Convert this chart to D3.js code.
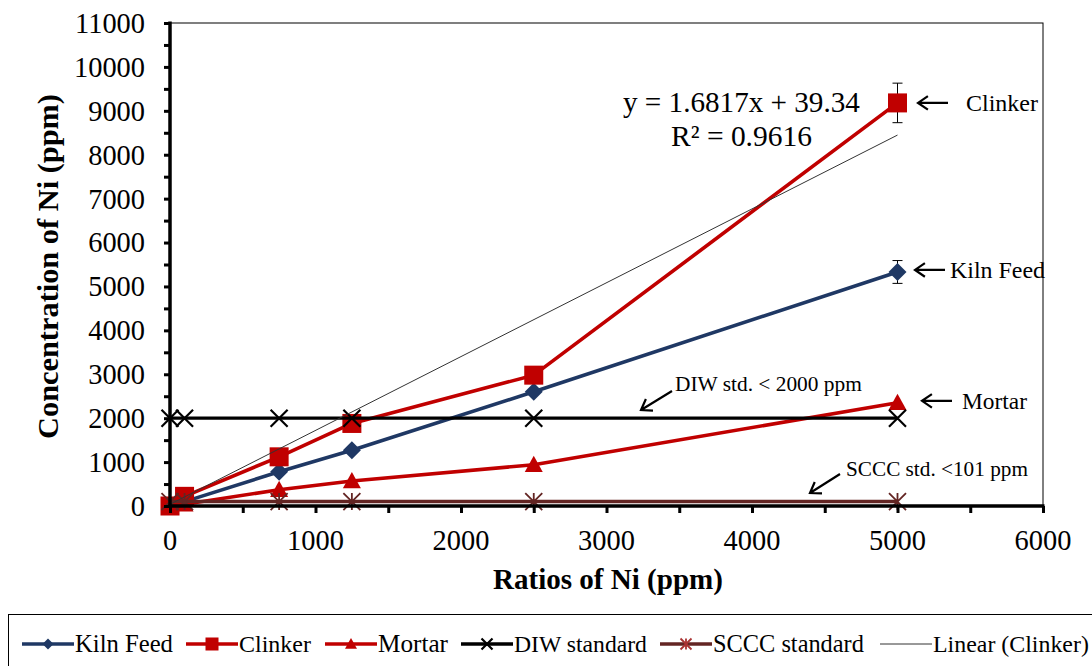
<!DOCTYPE html>
<html>
<head>
<meta charset="utf-8">
<script src="https://cdn.jsdelivr.net/npm/d3@7"></script>
<style>
  html, body { margin: 0; padding: 0; background: #fff; }
  svg { display: block; }
  svg text { font-family: 'Liberation Serif', 'DejaVu Serif', 'Times New Roman', serif; }
</style>
</head>
<body>
<svg id="chart" width="1092" height="666"></svg>
<script>
/* ── Data ── */
const ratios     = [0, 100, 750, 1250, 2500, 5000];
const kilnFeed   = [0, 100, 780, 1270, 2600, 5330];
const clinker    = [0, 220, 1120, 1880, 2980, 9180];
const mortar     = [0, 40, 370, 570, 940, 2350];
const diwStd     = [2000, 2000, 2000, 2000, 2000, 2000];
const scccStd    = [101, 101, 101, 101, 101, 101];
const kilnErr    = [0, 0, 0, 0, 0, 260];
const clinkerErr = [0, 0, 0, 0, 0, 450];
const trendSlope     = 1.6817;
const trendIntercept = 39.34;
const trendX     = [0, 5000];

const xTicks = [0, 1000, 2000, 3000, 4000, 5000, 6000];
const yTicks = [0, 1000, 2000, 3000, 4000, 5000, 6000, 7000, 8000, 9000, 10000, 11000];

const SERIES = [
  { name: 'Kiln Feed',     values: kilnFeed, color: '#1F3864', marker: 'diamond',  err: kilnErr },
  { name: 'Clinker',       values: clinker,  color: '#C00000', marker: 'square',   err: clinkerErr },
  { name: 'Mortar',        values: mortar,   color: '#C00000', marker: 'triangle' },
  { name: 'DIW standard',  values: diwStd,   color: '#000000', marker: 'x' },
  { name: 'SCCC standard', values: scccStd,  color: '#632523', marker: 'star' },
];

const svg = d3.select('#chart');
const x = d3.scaleLinear().domain([0, 6000]).range([170, 1043]);
const y = d3.scaleLinear().domain([0, 11000]).range([506, 23]);

// scale a text's font size so it spans the width seen in the reference
function fit(sel, w) {
  const len = sel.node().getComputedTextLength();
  if (len > 0) sel.attr('font-size', +sel.attr('font-size') * w / len);
  return sel;
}

/* ── Plot frame (thin top/right) ── */
svg.append('rect')
  .attr('x', x(0)).attr('y', y(11000))
  .attr('width', x(6000) - x(0)).attr('height', y(0) - y(11000))
  .attr('fill', 'none').attr('stroke', '#000').attr('stroke-width', 1);

/* ── Markers ── */
function drawMarker(g, type, cx, cy, size, color) {
  const s = size / 2;
  if (type === 'diamond') {
    g.append('path')
      .attr('d', `M${cx},${cy - s}L${cx + s},${cy}L${cx},${cy + s}L${cx - s},${cy}Z`)
      .attr('fill', color);
  } else if (type === 'square') {
    g.append('rect')
      .attr('x', cx - s).attr('y', cy - s).attr('width', size).attr('height', size)
      .attr('fill', color);
  } else if (type === 'triangle') {
    g.append('path')
      .attr('d', `M${cx},${cy - s}L${cx + s},${cy + s * 0.8}L${cx - s},${cy + s * 0.8}Z`)
      .attr('fill', color);
  } else if (type === 'x') {
    g.append('path')
      .attr('d', `M${cx - s},${cy - s}L${cx + s},${cy + s}M${cx - s},${cy + s}L${cx + s},${cy - s}`)
      .attr('stroke', color).attr('stroke-width', 2.2).attr('fill', 'none');
  } else if (type === 'star') {
    g.append('path')
      .attr('d', `M${cx - s},${cy - s}L${cx + s},${cy + s}M${cx - s},${cy + s}L${cx + s},${cy - s}M${cx},${cy - s}L${cx},${cy + s}`)
      .attr('stroke', color).attr('stroke-width', 1.8).attr('fill', 'none');
  }
}

const MARKER_SIZE = { diamond: 18, square: 19, triangle: 18, x: 17, star: 17 };

const line = d3.line().x(d => x(d[0])).y(d => y(d[1]));

SERIES.forEach(s => {
  const g = svg.append('g');
  const pts = ratios.map((r, i) => [r, s.values[i]]);
  g.append('path')
    .datum(pts)
    .attr('d', line)
    .attr('fill', 'none')
    .attr('stroke', s.color)
    .attr('stroke-width', s.marker === 'x' ? 3.2 : 3.6)
    .attr('stroke-linejoin', 'round');

  if (s.err) {
    pts.forEach((p, i) => {
      const e = s.err[i];
      if (!e) return;
      const cx = x(p[0]);
      g.append('path')
        .attr('d', `M${cx},${y(p[1] - e)}V${y(p[1] + e)}M${cx - 5},${y(p[1] - e)}H${cx + 5}M${cx - 5},${y(p[1] + e)}H${cx + 5}`)
        .attr('stroke', '#000').attr('stroke-width', 1).attr('fill', 'none');
    });
  }

  pts.forEach(p => drawMarker(g, s.marker, x(p[0]), y(p[1]), MARKER_SIZE[s.marker], s.color));
});

/* ── Linear trend (Clinker) ── */
svg.append('path')
  .datum(trendX.map(v => [v, trendSlope * v + trendIntercept]))
  .attr('d', line)
  .attr('fill', 'none')
  .attr('stroke', '#333')
  .attr('stroke-width', 1);

/* ── Axes ── */
const probe = svg.append('text').attr('font-size', 20).text('11000');
fit(probe, 70);
const TICK_FS = +probe.attr('font-size');
probe.remove();

const yAxisG = svg.append('g').attr('transform', `translate(${x(0)},0)`);
yAxisG.call(d3.axisLeft(y).tickValues(d3.range(0, 11001, 500)).tickSize(6).tickFormat(''))
  .call(ax => ax.select('.domain').remove())
  .call(ax => ax.selectAll('.tick line').attr('stroke', '#000').attr('stroke-width', 3));
yAxisG.append('line')
  .attr('x1', 0).attr('x2', 0).attr('y1', y(11000) - 1.5).attr('y2', y(0) + 1.5)
  .attr('stroke', '#000').attr('stroke-width', 3.5);
yAxisG.selectAll('.ylab')
  .data(yTicks)
  .join('text')
  .attr('x', -25)
  .attr('y', d => y(d))
  .attr('dy', '0.35em')
  .attr('text-anchor', 'end')
  .attr('font-size', TICK_FS)
  .attr('fill', '#000')
  .text(d => d);

const xAxisG = svg.append('g').attr('transform', `translate(0,${y(0)})`);
xAxisG.call(d3.axisBottom(x).tickValues(d3.range(0, 6001, 500)).tickSize(7).tickFormat(''))
  .call(ax => ax.select('.domain').remove())
  .call(ax => ax.selectAll('.tick line').attr('stroke', '#000').attr('stroke-width', 3));
xAxisG.append('line')
  .attr('x1', x(0) - 1.5).attr('x2', x(6000) + 1.5).attr('y1', 0).attr('y2', 0)
  .attr('stroke', '#000').attr('stroke-width', 3.5);
xAxisG.selectAll('.xlab')
  .data(xTicks)
  .join('text')
  .attr('x', d => x(d))
  .attr('y', 44)
  .attr('text-anchor', 'middle')
  .attr('font-size', TICK_FS)
  .attr('fill', '#000')
  .text(d => d);

/* ── Axis titles ── */
fit(svg.append('text')
  .attr('transform', `translate(58,${(y(0) + y(11000)) / 2 + 2}) rotate(-90)`)
  .attr('text-anchor', 'middle')
  .attr('font-size', 24)
  .attr('font-weight', 'bold')
  .text('Concentration of Ni (ppm)'), 345);

fit(svg.append('text')
  .attr('x', 608)
  .attr('y', 589)
  .attr('text-anchor', 'middle')
  .attr('font-size', 24)
  .attr('font-weight', 'bold')
  .text('Ratios of Ni (ppm)'), 230);

/* ── Annotations ── */
function addText(tx, ty, str, w, anchor = 'start') {
  return fit(svg.append('text')
    .attr('x', tx).attr('y', ty)
    .attr('text-anchor', anchor)
    .attr('font-size', 20)
    .attr('fill', '#000')
    .text(str), w);
}
function addArrow(x1, y1, x2, y2) {
  const ang = Math.atan2(y2 - y1, x2 - x1);
  const h = 12, spread = 0.6;
  svg.append('path')
    .attr('d', `M${x1},${y1}L${x2},${y2}` +
      `M${x2 - h * Math.cos(ang - spread)},${y2 - h * Math.sin(ang - spread)}L${x2},${y2}` +
      `L${x2 - h * Math.cos(ang + spread)},${y2 - h * Math.sin(ang + spread)}`)
    .attr('stroke', '#000').attr('stroke-width', 2.2).attr('fill', 'none');
}

addText(623, 112, 'y = 1.6817x + 39.34', 237);
addText(671, 146, 'R² = 0.9616', 141);

const yClk = y(clinker[5]);
addArrow(948, yClk, 918, yClk);
addText(966, yClk + 8, 'Clinker', 72);

const yKf = y(kilnFeed[5]);
addArrow(945, yKf - 2, 915, yKf - 2);
addText(950, yKf + 6, 'Kiln Feed', 95);

const yMt = y(mortar[5]);
addArrow(952, yMt - 2, 922, yMt - 2);
addText(962, yMt + 6, 'Mortar', 65);

addArrow(672, 391, 641, 410);
addText(675, 391, 'DIW std. < 2000 ppm', 187);

addArrow(840, 474, 810, 493);
addText(846, 476, 'SCCC std. <101 ppm', 182);

/* ── Legend ── */
svg.append('rect')
  .attr('x', 8.5).attr('y', 614.5)
  .attr('width', 1100).attr('height', 70)
  .attr('fill', 'none').attr('stroke', '#000').attr('stroke-width', 1);

const LEGEND = [
  { s: SERIES[0], x: 22,  w: 98 },
  { s: SERIES[1], x: 186, w: 72 },
  { s: SERIES[2], x: 325, w: 70 },
  { s: SERIES[3], x: 461, w: 133 },
  { s: SERIES[4], x: 660, w: 151 },
  { s: { name: 'Linear (Clinker)', color: '#333', marker: null }, x: 880, w: 156 },
];
const LEG_SIZE = { diamond: 11, square: 13, triangle: 12, x: 11, star: 11 };
const ly = 644;
LEGEND.forEach(({ s, x: lx, w }) => {
  const g = svg.append('g');
  g.append('line')
    .attr('x1', lx).attr('x2', lx + 52).attr('y1', ly).attr('y2', ly)
    .attr('stroke', s.color)
    .attr('stroke-width', s.marker ? 3.5 : 1);
  if (s.marker) drawMarker(g, s.marker, lx + 26, ly, LEG_SIZE[s.marker], s.marker === 'star' ? '#a33' : s.color);
  fit(g.append('text')
    .attr('x', lx + 53).attr('y', ly + 8)
    .attr('font-size', 22)
    .attr('fill', '#000')
    .text(s.name), w);
});
</script>
</body>
</html>
